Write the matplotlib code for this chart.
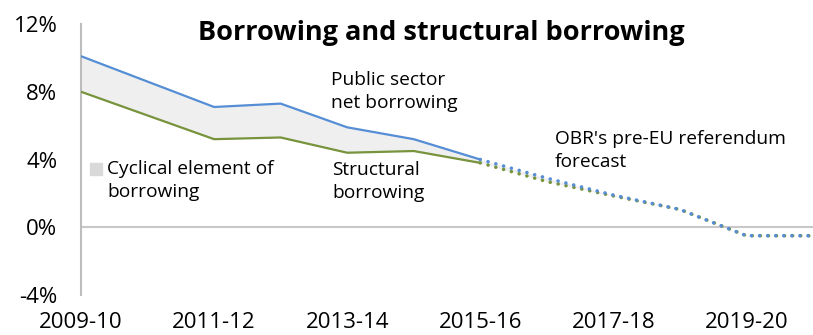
import matplotlib
matplotlib.use("Agg")
import matplotlib.pyplot as plt
from matplotlib.patches import Rectangle

plt.rcParams['font.family'] = ['Open Sans', 'DejaVu Sans']
plt.rcParams['lines.scale_dashes'] = False

# Fiscal years and borrowing as a share of GDP (%)
years = ["2009-10", "2010-11", "2011-12", "2012-13", "2013-14", "2014-15",
         "2015-16", "2016-17", "2017-18", "2018-19", "2019-20", "2020-21"]
tick_labels = ["2009-10", "2011-12", "2013-14", "2015-16", "2017-18", "2019-20"]

# Outturns up to 2015-16
psnb_outturn = [10.1, 8.6, 7.1, 7.3, 5.9, 5.2, 4.0]
structural_outturn = [8.0, 6.6, 5.2, 5.3, 4.4, 4.5, 3.8]
# OBR's pre-referendum forecast from 2015-16 on
psnb_forecast = [4.0, 2.9, 1.9, 1.05, -0.5, -0.5]
structural_forecast = [3.8, 2.7, 1.85, 1.05, -0.5, -0.5]

blue = "#558ED5"
green = "#77933C"
fill_grey = "#EFEFEF"

fig = plt.figure(figsize=(8.13, 3.35), dpi=100)
ax = fig.add_axes([81 / 813, 40 / 335, (813 - 81) / 813, 271 / 335])

x_out = list(range(len(psnb_outturn)))
x_fc = list(range(len(psnb_outturn) - 1, len(years)))

psnb_all = psnb_outturn + psnb_forecast[1:]
struct_all = structural_outturn + structural_forecast[1:]
ax.fill_between(range(len(years)), struct_all, psnb_all,
                color=fill_grey, linewidth=0, zorder=1)

ax.axhline(0, color="#C8C8C8", linewidth=1.5, zorder=2)

ax.plot(x_out, structural_outturn, color=green, linewidth=1.6,
        solid_capstyle="butt", zorder=3)
ax.plot(x_out, psnb_outturn, color=blue, linewidth=1.6,
        solid_capstyle="butt", zorder=4)
ax.plot(x_fc, structural_forecast, color=green, linewidth=2.6,
        linestyle=(0, (0.01, 5.8)), dash_capstyle="round", zorder=3)
ax.plot(x_fc, psnb_forecast, color=blue, linewidth=2.6,
        linestyle=(0, (0.01, 5.8)), dash_capstyle="round", zorder=4)

ax.set_xlim(0, len(years) - 1)
ax.set_ylim(-4, 12)
ax.set_yticks([-4, 0, 4, 8, 12])
ax.set_yticklabels(["-4%", "0%", "4%", "8%", "12%"])
ax.set_xticks([years.index(t) for t in tick_labels])
ax.set_xticklabels(tick_labels)
ax.tick_params(axis="both", length=0, labelsize=16, colors="#000000")
ax.tick_params(axis="y", pad=17)
ax.tick_params(axis="x", pad=12)

for side in ("top", "right", "bottom"):
    ax.spines[side].set_visible(False)
ax.spines["left"].set_color("#BDBDBD")
ax.spines["left"].set_linewidth(1.5)

ax.set_facecolor("none")

fig.text(441 / 813, 1 - 33 / 335, "Borrowing and structural borrowing",
         ha="center", va="center", fontsize=19.5, fontweight="bold")

label_kw = dict(fontsize=13.8, ha="left", va="top", linespacing=1.35)
fig.text(331 / 813, 1 - 71 / 335, "Public sector\nnet borrowing", **label_kw)
fig.text(332 / 813, 1 - 161 / 335, "Structural\nborrowing", **label_kw)
fig.text(555 / 813, 1 - 130 / 335, "OBR's pre-EU referendum\nforecast", **label_kw)
fig.text(107 / 813, 1 - 160 / 335, "Cyclical element of\nborrowing", **label_kw)
fig.patches.append(Rectangle((90 / 813, 1 - 175 / 335), 12 / 813, 12 / 335,
                             transform=fig.transFigure, color="#D9D9D9"))

fig.savefig("out.png", dpi=100)
